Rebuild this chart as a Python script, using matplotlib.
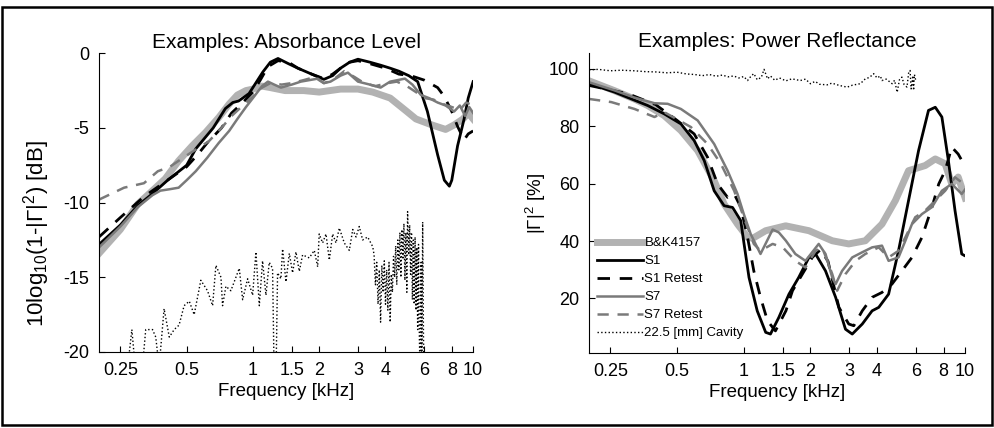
import matplotlib
matplotlib.use('Agg')
import matplotlib.pyplot as plt
from matplotlib.patches import Rectangle
from matplotlib.ticker import FixedLocator, FixedFormatter, NullLocator

plt.rcParams['font.family'] = ['Liberation Sans', 'DejaVu Sans']
plt.rcParams['mathtext.fontset'] = 'custom'
plt.rcParams['mathtext.rm'] = 'Liberation Sans'
plt.rcParams['mathtext.it'] = 'Liberation Sans:italic'
plt.rcParams['axes.unicode_minus'] = False

## ---- absorbance level, dB (left panel) ----
abs_bk_f = [0.2, 0.25, 0.3, 0.35, 0.4, 0.46, 0.53, 0.61, 0.7, 0.78, 0.85, 0.93, 1.0, 1.1, 1.2,
            1.4, 1.7, 2.0, 2.5, 3.0, 3.5, 4.2, 5.0, 5.5, 6.5, 7.5, 8.2, 9.0, 9.5, 10]
abs_bk_db = [-13.4, -11.8, -10.1, -9.2, -8.4, -7.2, -6.2, -5.3, -4.3, -3.4, -2.8, -2.5, -2.4, -2.2, -2.3,
             -2.5, -2.5, -2.6, -2.4, -2.4, -2.6, -3.0, -3.9, -4.4, -4.8, -5.1, -4.8, -4.4, -4.0, -4.4]

abs_s1_f = [0.2, 0.25, 0.3, 0.35, 0.41, 0.5, 0.55, 0.66, 0.75, 0.81, 0.86, 0.96, 1.11, 1.2, 1.3,
            1.45, 1.6, 1.85, 2.1, 2.3, 2.5, 2.75, 3.0, 3.4, 3.8, 4.2, 4.6, 5.1, 5.6, 6.2,
            6.9, 7.4, 7.8, 8.0, 8.5, 9.1, 9.5, 10]
abs_s1_db = [-12.8, -11.5, -10.2, -9.4, -8.5, -7.5, -6.4, -5.0, -3.7, -3.3, -3.2, -2.7, -1.25, -0.6, -0.35,
             -0.7, -1.0, -1.4, -1.75, -1.5, -1.0, -0.6, -0.4, -0.6, -0.8, -1.0, -1.2, -1.5, -1.9, -3.9,
             -6.8, -8.5, -8.9, -8.5, -6.2, -4.4, -3.0, -1.9]

abs_s1r_f = [0.2, 0.25, 0.32, 0.4, 0.5, 0.56, 0.62, 0.72, 0.8, 0.9, 1.0, 1.08, 1.17, 1.3, 1.45,
             1.6, 1.85, 2.1, 2.3, 2.5, 2.75, 3.0, 3.4, 4.0, 4.6, 5.2, 6.0, 6.9, 7.4, 8.0,
             8.5, 9.1, 9.5, 10]
abs_s1r_db = [-12.3, -11.0, -9.6, -8.6, -7.6, -6.8, -6.0, -5.0, -4.0, -3.3, -2.6, -1.8, -0.9, -0.5, -0.6,
              -1.0, -1.4, -1.7, -1.4, -1.0, -0.6, -0.5, -0.7, -1.0, -1.4, -1.5, -1.8, -2.3, -2.9, -3.9,
              -4.9, -5.8, -5.4, -5.2]

abs_s7_f = [0.2, 0.25, 0.3, 0.35, 0.38, 0.42, 0.46, 0.5, 0.55, 0.62, 0.7, 0.78, 0.85, 0.93, 1.0,
            1.1, 1.17, 1.25, 1.34, 1.5, 1.65, 1.97, 2.1, 2.25, 2.5, 2.7, 3.0, 3.4, 3.8, 4.2,
            4.9, 5.3, 5.8, 6.3, 6.9, 7.5, 8.2, 8.7, 9.2, 9.6, 10]
abs_s7_db = [-13.0, -11.6, -10.3, -9.5, -9.2, -9.1, -9.0, -8.5, -7.9, -7.0, -6.0, -5.2, -4.4, -3.6, -3.0,
             -2.2, -1.9, -2.1, -2.3, -2.1, -1.9, -1.7, -2.0, -1.9, -1.5, -1.3, -1.9, -2.1, -2.3, -1.9,
             -1.7, -2.1, -2.8, -3.0, -3.3, -3.5, -3.9, -3.5, -4.2, -3.6, -4.0]

abs_s7r_f = [0.2, 0.26, 0.32, 0.37, 0.42, 0.46, 0.53, 0.63, 0.72, 0.8, 0.9, 1.0, 1.1, 1.2, 1.35,
             1.5, 1.7, 1.9, 2.1, 2.3, 2.6, 2.9, 3.2, 3.6, 4.1, 4.5, 5.0, 5.5, 6.0, 6.6,
             7.3, 8.0, 8.7, 9.3, 10]
abs_s7r_db = [-9.8, -9.0, -8.7, -7.9, -7.6, -7.2, -6.6, -5.9, -5.0, -4.2, -3.5, -2.9, -2.3, -2.0, -2.1,
              -2.0, -1.8, -1.6, -2.0, -1.8, -1.2, -1.6, -2.0, -2.2, -2.0, -1.9, -2.2, -2.6, -3.0, -3.1,
              -3.4, -3.6, -3.8, -3.3, -3.5]

# cavity goes off the bottom of the scale in places (values below -20 are clipped)
abs_cav_f = [0.2, 0.27, 0.282, 0.292, 0.315, 0.326, 0.35, 0.362, 0.375, 0.395,
             0.417, 0.439, 0.462, 0.487, 0.514, 0.541, 0.58, 0.622, 0.656, 0.679,
             0.716, 0.728, 0.754, 0.794, 0.867, 0.898, 0.946, 0.997, 1.032, 1.069,
             1.106, 1.146, 1.186, 1.228, 1.25, 1.272, 1.294, 1.34, 1.364, 1.413,
             1.463, 1.514, 1.568, 1.624, 1.681, 1.802, 1.9, 1.968, 2.0, 2.073,
             2.147, 2.223, 2.302, 2.384, 2.468, 2.6, 2.74, 2.84, 2.94, 3.04,
             3.15, 3.32, 3.5, 3.55, 3.6, 3.65, 3.7, 3.75, 3.8, 3.85,
             3.9, 3.95, 4.0, 4.05, 4.1, 4.15, 4.2, 4.25, 4.3, 4.35,
             4.4, 4.45, 4.5, 4.55, 4.6, 4.65, 4.7, 4.75, 4.8, 4.85,
             4.9, 4.95, 5.0, 5.04, 5.1, 5.15, 5.2, 5.25, 5.3, 5.35,
             5.4, 5.45, 5.5, 5.55, 5.6, 5.65, 5.7, 5.75, 5.8, 5.85,
             5.9, 5.95, 6.0]
abs_cav_db = [-22, -21, -18.5, -21, -21, -18.5, -18.5, -19.0, -21, -17.1,
              -19.0, -18.5, -18.2, -16.9, -16.6, -17.5, -15.2, -15.9, -16.9, -14.2,
              -15.0, -16.9, -15.6, -15.9, -14.4, -16.5, -15.1, -16.2, -13.3, -16.9,
              -13.9, -16.2, -14.0, -14.4, -22, -22, -14.7, -15.1, -13.1, -15.3,
              -13.4, -14.7, -13.3, -14.6, -13.5, -13.7, -13.2, -14.3, -12.1, -12.7,
              -12.1, -13.85, -12.1, -12.7, -11.7, -12.7, -13.2, -11.8, -12.3, -11.6,
              -12.5, -12.3, -12.95, -13.5, -15.5, -14.0, -16.8, -14.5, -18.0, -14.2,
              -16.0, -13.9, -16.8, -14.5, -17.2, -14.0, -18.0, -14.8, -16.0, -13.6,
              -15.0, -12.9, -15.5, -12.5, -14.5, -12.0, -15.0, -11.8, -13.8, -11.4,
              -15.2, -12.0, -16.0, -10.6, -13.5, -11.5, -14.8, -12.0, -16.5, -12.5,
              -16.8, -12.3, -17.2, -13.0, -18.5, -12.8, -19.0, -22, -14.0, -22,
              -11.3, -19.0, -22]

## ---- power reflectance, % (right panel) ----
ref_bk_f = [0.2, 0.26, 0.32, 0.368, 0.437, 0.52, 0.619, 0.735, 0.815, 0.937, 1.04, 1.1, 1.256, 1.546,
            1.97, 2.51, 2.98, 3.54, 4.21, 4.84, 5.55, 6.6, 7.33, 8.12, 8.7, 9.3, 10]
ref_bk_pct = [95.8, 92.4, 89.5, 87.2, 83.7, 78.5, 71.5, 61.0, 52.9, 45.9, 41.3, 41.0, 43.6, 45.3,
              43.6, 40.1, 39.0, 40.1, 45.9, 54.1, 64.5, 66.3, 68.6, 66.9, 59.9, 62.3, 55.0]

ref_s1_f = [0.2, 0.26, 0.368, 0.437, 0.52, 0.597, 0.663, 0.735, 0.815, 0.89, 0.969, 1.003, 1.056,
            1.15, 1.256, 1.32, 1.44, 1.6, 1.77, 1.97, 2.11, 2.34, 2.6, 2.88, 3.09, 3.43, 3.8,
            4.07, 4.51, 5.0, 5.55, 6.16, 6.83, 7.33, 7.85, 8.4, 9.0, 9.65, 9.9]
ref_s1_pct = [94.8, 91.9, 87.2, 84.3, 80.8, 75.0, 68.0, 57.5, 52.3, 51.7, 47.1, 39.0, 27.3,
              15.7, 8.2, 7.6, 13.4, 21.5, 27.3, 34.3, 35.5, 29.6, 20.4, 9.3, 7.6, 11.1, 15.7,
              16.9, 21.5, 36.6, 54.1, 71.5, 85.5, 86.6, 83.2, 68.0, 50.6, 35.5, 35.0]

ref_s1r_f = [0.2, 0.3, 0.4, 0.5, 0.597, 0.686, 0.761, 0.845, 0.905, 0.969, 1.04, 1.11, 1.19,
             1.28, 1.39, 1.55, 1.66, 1.84, 2.04, 2.22, 2.4, 2.69, 2.98, 3.14, 3.43, 3.8, 4.21,
             4.67, 5.18, 5.75, 6.38, 7.08, 7.6, 8.12, 8.7, 9.3, 9.85]
ref_s1r_pct = [94.2, 91.3, 87.5, 82.0, 77.3, 69.2, 59.9, 55.2, 56.4, 51.8, 41.3, 29.6, 20.4,
               12.2, 8.7, 15.7, 22.7, 28.5, 34.3, 37.0, 33.0, 16.9, 11.1, 10.5, 15.7, 20.4, 22.1,
               25.0, 29.6, 34.3, 41.3, 51.8, 59.9, 64.5, 72.7, 70.3, 66.9]

ref_s7_f = [0.2, 0.26, 0.32, 0.395, 0.453, 0.52, 0.619, 0.735, 0.845, 0.937, 1.0, 1.075, 1.19,
            1.35, 1.44, 1.55, 1.71, 1.9, 2.18, 2.34, 2.51, 2.6, 2.78, 3.09, 3.43, 3.8, 4.21,
            4.51, 5.0, 5.37, 5.75, 6.38, 7.08, 7.85, 8.7, 9.65, 10]
ref_s7_pct = [95.3, 92.5, 90.0, 88.0, 87.8, 86.0, 82.0, 73.8, 64.5, 56.4, 49.4, 42.4, 35.5,
              44.0, 43.0, 40.1, 35.5, 33.1, 39.0, 35.5, 27.3, 25.0, 29.6, 34.3, 36.1, 37.8, 38.4,
              33.1, 34.3, 40.1, 45.9, 49.4, 51.8, 57.5, 59.9, 56.4, 58.0]

ref_s7r_f = [0.2, 0.252, 0.321, 0.395, 0.437, 0.577, 0.686, 0.788, 0.905, 1.0, 1.11, 1.19, 1.35,
             1.5, 1.71, 1.9, 2.11, 2.26, 2.51, 2.64, 2.88, 3.2, 3.54, 4.07, 4.51, 5.0, 5.37,
             5.95, 6.6, 7.33, 8.12, 9.0, 9.85]
ref_s7r_pct = [89.5, 88.4, 86.0, 83.2, 84.9, 79.7, 73.8, 66.9, 57.5, 48.3, 39.0, 36.6, 39.0,
               37.8, 33.1, 30.8, 36.6, 37.8, 28.5, 22.7, 28.5, 33.1, 35.5, 37.8, 34.3, 36.6, 41.3,
               48.3, 50.6, 54.1, 57.5, 62.2, 59.9]

ref_cav_f = [0.2, 0.22, 0.25, 0.28, 0.32, 0.36, 0.4, 0.45, 0.5, 0.55, 0.6, 0.65, 0.7, 0.75,
             0.8, 0.85, 0.9, 0.95, 1.0, 1.04, 1.08, 1.11, 1.15, 1.2, 1.235, 1.28, 1.32, 1.38,
             1.45, 1.55, 1.65, 1.8, 1.9, 2.0, 2.1, 2.2, 2.38, 2.5, 2.7, 2.93, 3.1, 3.36,
             3.54, 3.7, 3.86, 4.0, 4.14, 4.21, 4.4, 4.59, 4.68, 4.8, 4.93, 5.05, 5.18, 5.3,
             5.46, 5.56, 5.64, 5.7, 5.74, 5.8, 5.85, 5.9, 6.0]
ref_cav_pct = [99.6, 99.8, 99.3, 99.5, 99.3, 99.0, 98.9, 98.6, 98.8, 98.2, 98.0, 97.6, 98.0, 97.4,
               97.8, 97.2, 97.5, 96.8, 97.3, 95.9, 97.5, 98.3, 96.2, 97.0, 99.8, 96.5, 97.5, 96.0,
               96.8, 95.8, 96.5, 95.9, 96.4, 94.8, 95.6, 94.6, 94.4, 95.0, 94.2, 93.6, 94.3, 94.8,
               96.5, 97.0, 98.3, 96.8, 97.5, 95.9, 96.4, 95.3, 94.8, 96.0, 91.8, 96.2, 97.1, 94.5,
               93.6, 98.8, 99.4, 93.0, 94.2, 97.6, 92.5, 98.0, 95.5]

freq_ticks = [0.25, 0.5, 1, 1.5, 2, 3, 4, 6, 8, 10]
freq_labels = ['0.25', '0.5', '1', '1.5', '2', '3', '4', '6', '8', '10']
labels = ['B&K4157', 'S1', 'S1 Retest', 'S7', 'S7 Retest', '22.5 [mm] Cavity']

# line styles: (color, linewidth, linestyle)
styles = [('#b2b2b2', 5.0, '-'),
          ('black', 2.0, '-'),
          ('black', 2.0, (0, (4.5, 3.5))),
          ('#7a7a7a', 1.8, '-'),
          ('#7a7a7a', 1.8, (0, (4.5, 3.5))),
          ('black', 1.0, ':')]

fig = plt.figure(figsize=(9.95, 4.28), dpi=100)
ax1 = fig.add_axes([0.0995, 0.1776, 0.376, 0.698])
ax2 = fig.add_axes([0.592, 0.1752, 0.378, 0.701])

left_series = [(abs_bk_f, abs_bk_db), (abs_s1_f, abs_s1_db), (abs_s1r_f, abs_s1r_db),
               (abs_s7_f, abs_s7_db), (abs_s7r_f, abs_s7r_db), (abs_cav_f, abs_cav_db)]
right_series = [(ref_bk_f, ref_bk_pct), (ref_s1_f, ref_s1_pct), (ref_s1r_f, ref_s1r_pct),
                (ref_s7_f, ref_s7_pct), (ref_s7r_f, ref_s7r_pct), (ref_cav_f, ref_cav_pct)]

for (f, v), (c, lw, ls), lab in zip(left_series, styles, labels):
    ax1.plot(f, v, color=c, lw=lw, ls=ls, label=lab)
for (f, v), (c, lw, ls), lab in zip(right_series, styles, labels):
    ax2.plot(f, v, color=c, lw=lw, ls=ls, label=lab)

for ax in (ax1, ax2):
    ax.set_xscale('log')
    ax.set_xlim(0.2, 10)
    ax.xaxis.set_major_locator(FixedLocator(freq_ticks))
    ax.xaxis.set_major_formatter(FixedFormatter(freq_labels))
    ax.xaxis.set_minor_locator(NullLocator())
    ax.spines['top'].set_visible(False)
    ax.spines['right'].set_visible(False)
    ax.tick_params(direction='in', length=4, width=0.8, labelsize=13, pad=7)
    ax.set_xlabel('Frequency [kHz]', fontsize=13.5, labelpad=3)

ax1.set_ylim(-20, 0)
ax1.set_yticks([-20, -15, -10, -5, 0])
ax1.set_title('Examples: Absorbance Level', fontsize=15, pad=4)
ax1.set_ylabel('10log$_{10}$(1-|Γ|$^2$) [dB]', fontsize=16)
ax1.yaxis.set_label_coords(-0.125, 0.395)

ax2.set_ylim(1, 105.5)
ax2.set_yticks([20, 40, 60, 80, 100])
ax2.set_title('Examples: Power Reflectance', fontsize=15, pad=4)
ax2.set_ylabel('|Γ|$^2$ [%]', fontsize=13.5)
ax2.yaxis.set_label_coords(-0.11, 0.5)

ax2.legend(loc='upper left', bbox_to_anchor=(0.021, 0.387), frameon=False, fontsize=9.5,
           handlelength=3.5, handletextpad=0.1, labelspacing=0.44, borderpad=0, borderaxespad=0)

fig.patches.append(Rectangle((0.002, 0.007), 0.995, 0.977, transform=fig.transFigure,
                             fill=False, edgecolor='black', lw=1.8))

fig.savefig('out.png', dpi=100)
